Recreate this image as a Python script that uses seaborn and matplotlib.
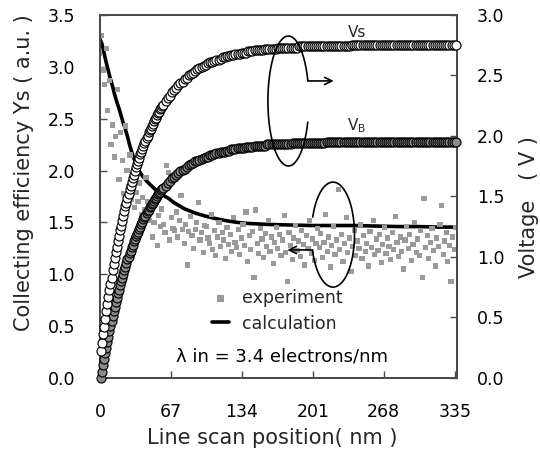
import numpy as np
import pandas as pd
import matplotlib
matplotlib.use("Agg")
import matplotlib.pyplot as plt
import seaborn as sns

# ---------------- data ----------------
x_ticks = [0, 67, 134, 201, 268, 335]

curve_x = list(range(1, 61)) + list(range(62, 335, 2)) + [336]

vs_values = [
    0.22, 0.29, 0.36, 0.42, 0.49, 0.55, 0.61, 0.67, 0.73, 0.78,
    0.83, 0.89, 0.94, 0.99, 1.04, 1.08, 1.13, 1.17, 1.22, 1.26,
    1.30, 1.34, 1.38, 1.42, 1.45, 1.49, 1.52, 1.56, 1.59, 1.62,
    1.65, 1.68, 1.71, 1.74, 1.77, 1.79, 1.82, 1.85, 1.87, 1.89,
    1.92, 1.94, 1.96, 1.98, 2.00, 2.03, 2.05, 2.06, 2.08, 2.10,
    2.12, 2.14, 2.15, 2.17, 2.19, 2.20, 2.22, 2.23, 2.25, 2.26,
    2.29, 2.31, 2.33, 2.36, 2.38, 2.40, 2.42, 2.44, 2.45, 2.47,
    2.48, 2.50, 2.51, 2.52, 2.54, 2.55, 2.56, 2.57, 2.58, 2.59,
    2.60, 2.61, 2.61, 2.62, 2.63, 2.63, 2.64, 2.65, 2.65, 2.66,
    2.66, 2.67, 2.67, 2.68, 2.68, 2.68, 2.69, 2.69, 2.69, 2.70,
    2.70, 2.70, 2.71, 2.71, 2.71, 2.71, 2.71, 2.72, 2.72, 2.72,
    2.72, 2.72, 2.72, 2.73, 2.73, 2.73, 2.73, 2.73, 2.73, 2.73,
    2.73, 2.73, 2.73, 2.74, 2.74, 2.74, 2.74, 2.74, 2.74, 2.74,
    2.74, 2.74, 2.74, 2.74, 2.74, 2.74, 2.74, 2.74, 2.74, 2.74,
    2.74, 2.74, 2.74, 2.74, 2.74, 2.74, 2.74, 2.74, 2.75, 2.75,
    2.75, 2.75, 2.75, 2.75, 2.75, 2.75, 2.75, 2.75, 2.75, 2.75,
    2.75, 2.75, 2.75, 2.75, 2.75, 2.75, 2.75, 2.75, 2.75, 2.75,
    2.75, 2.75, 2.75, 2.75, 2.75, 2.75, 2.75, 2.75, 2.75, 2.75,
    2.75, 2.75, 2.75, 2.75, 2.75, 2.75, 2.75, 2.75, 2.75, 2.75,
    2.75, 2.75, 2.75, 2.75, 2.75, 2.75, 2.75, 2.75,
]

vb_values = [
    0.00, 0.05, 0.11, 0.16, 0.21, 0.25, 0.30, 0.34, 0.39, 0.43,
    0.47, 0.51, 0.55, 0.59, 0.63, 0.66, 0.70, 0.73, 0.77, 0.80,
    0.83, 0.86, 0.89, 0.92, 0.95, 0.98, 1.00, 1.03, 1.05, 1.08,
    1.10, 1.13, 1.15, 1.17, 1.19, 1.21, 1.23, 1.25, 1.27, 1.29,
    1.31, 1.33, 1.34, 1.36, 1.38, 1.39, 1.41, 1.42, 1.44, 1.45,
    1.46, 1.48, 1.49, 1.50, 1.52, 1.53, 1.54, 1.55, 1.56, 1.57,
    1.59, 1.61, 1.63, 1.65, 1.66, 1.68, 1.69, 1.71, 1.72, 1.73,
    1.74, 1.76, 1.77, 1.78, 1.79, 1.79, 1.80, 1.81, 1.82, 1.83,
    1.83, 1.84, 1.84, 1.85, 1.86, 1.86, 1.87, 1.87, 1.87, 1.88,
    1.88, 1.89, 1.89, 1.89, 1.90, 1.90, 1.90, 1.90, 1.91, 1.91,
    1.91, 1.91, 1.92, 1.92, 1.92, 1.92, 1.92, 1.92, 1.93, 1.93,
    1.93, 1.93, 1.93, 1.93, 1.93, 1.93, 1.93, 1.93, 1.93, 1.93,
    1.94, 1.94, 1.94, 1.94, 1.94, 1.94, 1.94, 1.94, 1.94, 1.94,
    1.94, 1.94, 1.94, 1.94, 1.94, 1.94, 1.95, 1.95, 1.95, 1.95,
    1.95, 1.95, 1.95, 1.95, 1.95, 1.95, 1.95, 1.95, 1.95, 1.95,
    1.95, 1.95, 1.95, 1.95, 1.95, 1.95, 1.95, 1.95, 1.95, 1.95,
    1.95, 1.95, 1.95, 1.95, 1.95, 1.95, 1.95, 1.95, 1.95, 1.95,
    1.95, 1.95, 1.95, 1.95, 1.95, 1.95, 1.95, 1.95, 1.95, 1.95,
    1.95, 1.95, 1.95, 1.95, 1.95, 1.95, 1.95, 1.95, 1.95, 1.95,
    1.95, 1.95, 1.95, 1.95, 1.95, 1.95, 1.95, 1.95,
]

calc_x = [0, 2, 4, 6, 8, 10, 12, 14, 16, 18, 20, 22, 24, 26, 28, 30, 32, 34, 36, 38, 40,
          44, 48, 52, 56, 60, 65, 70, 75, 80, 85, 90, 95, 100,
          110, 120, 130, 140, 150, 160, 180, 200, 220, 240, 260, 280, 300, 320, 337]
calc_y = [3.27, 3.22, 3.13, 3.04, 2.96, 2.88, 2.81, 2.73, 2.66, 2.60,
          2.53, 2.46, 2.40, 2.33, 2.25, 2.18, 2.12, 2.07, 2.02, 1.98, 1.95,
          1.90, 1.86, 1.82, 1.79, 1.76, 1.73, 1.69, 1.66, 1.63, 1.61, 1.59, 1.575, 1.56,
          1.535, 1.515, 1.50, 1.49, 1.485, 1.48, 1.475, 1.47, 1.47, 1.47, 1.465, 1.46,
          1.46, 1.455, 1.455]

exp_x = np.arange(0, 337, 1.5)
exp_y = [
    3.13, 3.30, 2.97, 2.83, 3.18, 2.58, 2.87, 2.25, 2.44, 2.13,
    2.33, 2.78, 1.91, 2.37, 2.10, 1.78, 2.43, 2.00, 1.85, 2.15,
    1.72, 1.95, 1.64, 1.79, 1.70, 1.88, 1.58, 1.74, 1.62, 1.93,
    1.70, 1.52, 1.66, 1.36, 1.50, 1.72, 1.28, 1.57, 1.46, 1.63,
    1.48, 1.40, 2.05, 1.98, 1.33, 1.55, 1.44, 1.42, 1.60, 1.36,
    1.52, 1.76, 1.43, 1.30, 1.48, 1.09, 1.41, 1.56, 1.37, 1.25,
    1.43, 1.50, 1.69, 1.33, 1.40, 1.21, 1.47, 1.46, 1.35, 1.30,
    1.58, 1.24, 1.42, 1.18, 1.36, 1.50, 1.27, 1.40, 1.33, 1.15,
    1.45, 1.29, 1.38, 1.22, 1.55, 1.31, 1.26, 1.43, 1.19, 1.35,
    1.48, 1.28, 1.60, 1.12, 1.37, 1.24, 1.41, 0.97, 1.62, 1.30,
    1.20, 1.44, 1.34, 1.16, 1.39, 1.27, 1.52, 1.22, 1.36, 1.10,
    1.31, 1.45, 1.25, 1.38, 1.18, 1.33, 1.57, 1.21, 0.93, 1.40,
    1.28, 1.14, 1.35, 1.47, 1.23, 1.32, 1.17, 1.42, 1.29, 1.09,
    1.37, 1.25, 1.52, 1.20, 1.34, 1.13, 1.30, 1.44, 1.26, 1.39,
    1.16, 1.31, 1.58, 1.22, 1.36, 1.07, 1.28, 1.46, 1.19, 1.33,
    1.82, 1.24, 1.38, 1.12, 1.30, 1.55, 1.21, 1.35, 1.03, 1.27,
    1.42, 1.18, 1.32, 1.25, 1.48, 1.15, 1.37, 1.22, 1.30, 1.08,
    1.41, 1.26, 1.52, 1.19, 1.34, 1.23, 1.38, 1.11, 1.29, 1.45,
    1.20, 1.35, 1.27, 1.14, 1.40, 1.24, 1.56, 1.31, 1.17, 1.36,
    1.22, 1.05, 1.33, 1.46, 1.25, 1.38, 1.13, 1.29, 1.50, 1.21,
    1.34, 1.18, 1.42, 0.97, 1.73, 1.26, 1.37, 1.15, 1.31, 1.44,
    1.23, 1.08, 1.35, 1.27, 1.48, 1.66, 1.19, 1.32, 1.40, 1.12,
    1.28, 0.93, 1.36, 1.24, 1.45,
]

df_curves = pd.DataFrame({"x": curve_x, "vs": vs_values, "vb": vb_values})
df_calc = pd.DataFrame({"x": calc_x, "y": calc_y})
df_exp = pd.DataFrame({"x": exp_x, "y": exp_y})

# ---------------- style ----------------
sns.set_theme(style="ticks")
plt.rcParams["font.family"] = ["DejaVu Sans", "Noto Sans CJK JP"]
spine_c = "#4a4a4a"

fig = plt.figure(figsize=(5.4, 4.53), dpi=100)
ax = fig.add_axes([0.185, 0.1656, 0.6611, 0.8013])
ax2 = ax.twinx()

# calculation line + experiment points (left axis)
sns.lineplot(data=df_calc, x="x", y="y", ax=ax, color="black", lw=2.6,
             label="calculation", zorder=2)
sns.scatterplot(data=df_exp, x="x", y="y", ax=ax, marker="s", s=14,
                color="#9a9a9a", edgecolor="none", linewidth=0,
                label="experiment", zorder=3)

# voltage curves (right axis)
sns.scatterplot(data=df_curves, x="x", y="vb", ax=ax2, marker="o", s=42,
                color="#8c8c8c", edgecolor="black", linewidth=0.85,
                clip_on=False, legend=False, zorder=3)
sns.scatterplot(data=df_curves, x="x", y="vs", ax=ax2, marker="o", s=42,
                color="white", edgecolor="black", linewidth=0.85,
                clip_on=False, legend=False, zorder=3)

# axes limits / ticks
ax.set_xlim(0, 337)
ax.set_ylim(0, 3.5)
ax2.set_ylim(0, 3.0)
ax.set_xticks(x_ticks)
ax.set_xticklabels([str(t) for t in x_ticks])
ax.set_yticks(np.arange(0, 3.51, 0.5))
ax.set_yticklabels([f"{v:.1f}" for v in np.arange(0, 3.51, 0.5)])
ax2.set_yticks(np.arange(0, 3.01, 0.5))
ax2.set_yticklabels([f"{v:.1f}" for v in np.arange(0, 3.01, 0.5)])

ax.tick_params(axis="x", direction="in", length=5, width=1, color=spine_c,
               labelsize=12.5, pad=18, top=False, labelcolor="black")
ax.tick_params(axis="y", direction="in", length=5, width=1, color=spine_c,
               labelsize=12.5, pad=18, right=False, labelcolor="black")
ax2.tick_params(axis="y", direction="in", length=5, width=1, color=spine_c,
                labelsize=12.5, pad=14.5, labelcolor="black")

for a in (ax, ax2):
    for sp in a.spines.values():
        sp.set_visible(True)
        sp.set_color(spine_c)
        sp.set_linewidth(1.4)

ax.set_xlabel("Line scan position( nm )", fontsize=15)
ax.set_ylabel("Collecting efficiency Ys ( a.u. )", fontsize=15)
ax2.set_ylabel("Voltage   ( V )", fontsize=15)
ax.xaxis.set_label_coords(0.483, -0.138)
ax.yaxis.set_label_coords(-0.185, 0.565)
ax2.yaxis.set_label_coords(1.174, 0.471)

# legend
h, l = ax.get_legend_handles_labels()
order = [l.index("experiment"), l.index("calculation")]
ax.legend([h[i] for i in order], [l[i] for i in order],
          loc="upper left", bbox_to_anchor=(0.314, 0.246),
          bbox_transform=ax.transAxes, frameon=False, fontsize=12.5,
          borderpad=0, borderaxespad=0, handlelength=1.0,
          handletextpad=0.75, labelspacing=0.45, markerscale=1.3)

ax.text(0.511, 0.058, "λ in = 3.4 electrons/nm", transform=ax.transAxes,
        ha="center", va="center", fontsize=13, color="black")

# curve labels
ax2.text(0.720, 0.953, "Vs", transform=ax2.transAxes, ha="center",
         va="center", fontsize=11)
ax2.text(0.720, 0.694, r"V$_\mathregular{B}$", transform=ax2.transAxes,
         ha="center", va="center", fontsize=11)

# annotation ellipses with arrows
def ell_arc(cx, cy, rx, ry, t0, t1):
    t = np.deg2rad(np.linspace(t0, t1, 200))
    return cx + rx * np.cos(t), cy + ry * np.sin(t)

ex, ey = ell_arc(0.528, 0.763, 0.0574, 0.179, 18, 341)
ax2.plot(ex, ey, color="black", lw=1.2, transform=ax2.transAxes, zorder=5)
ax2.annotate("", xy=(0.655, ey[0]), xytext=(ex[0], ey[0]),
             xycoords="axes fraction",
             arrowprops=dict(arrowstyle="->", lw=1.2, color="black",
                             shrinkA=0, shrinkB=0, mutation_scale=13),
             zorder=5)

ex, ey = ell_arc(0.653, 0.395, 0.0602, 0.1446, 197, 520.5)
ax2.plot(ex, ey, color="black", lw=1.2, transform=ax2.transAxes, zorder=5)
ax2.annotate("", xy=(0.525, ey[0]), xytext=(ex[0], ey[0]),
             xycoords="axes fraction",
             arrowprops=dict(arrowstyle="->", lw=1.2, color="black",
                             shrinkA=0, shrinkB=0, mutation_scale=13),
             zorder=5)

fig.savefig("out.png", dpi=100)
